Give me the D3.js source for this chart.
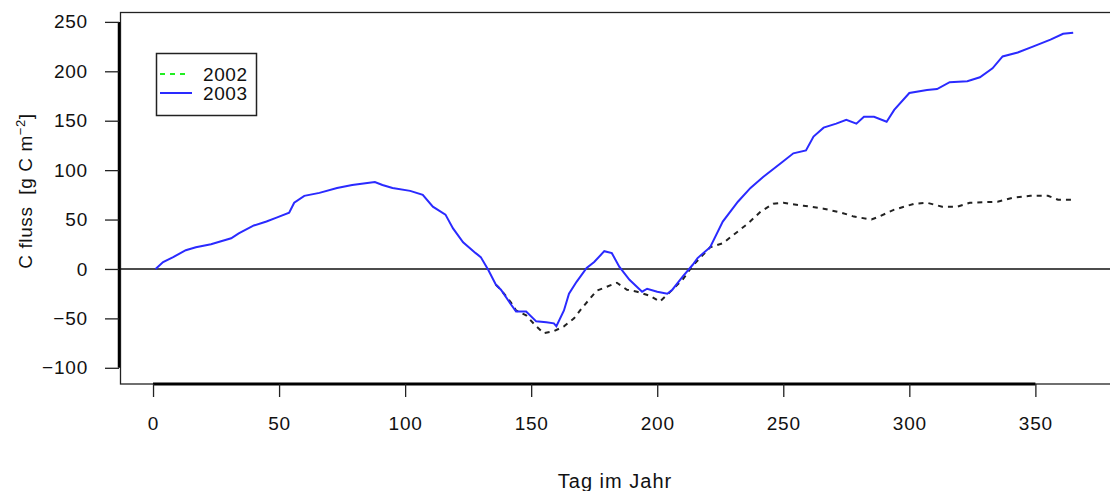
<!DOCTYPE html>
<html><head><meta charset="utf-8">
<script src="https://cdn.jsdelivr.net/npm/d3@7"></script>
<style>
html,body{margin:0;padding:0;background:#fff;}
text{font-family:"Liberation Sans",Arial,sans-serif;fill:#111;white-space:pre;}
</style></head>
<body>
<svg id="c" width="1110" height="491"></svg>
<script>
// ---- data ----
const days2003 = [1,4,8,13,17,23,27,31,34,40,45,49,54,56,60,66,73,79,85,88,91,95,102,107,111,116,119,123,128,130,133,136,138,142,144,148,152,156,159,160,163,165,168,172,175,179,182,185,189,194,196,200,204,206,210,214,216,221,226,232,237,242,249,254,259,262,266,271,275,279,282,286,291,294,300,307,311,316,323,328,333,337,343,349,356,361,365];
const vals2003 = [0,7,12,19,22,25,28,31,36,44,48,52,57,67,74,77,82,85,87,88,85,82,79,75,63,55,41,27,16,12,-1,-16,-21,-36,-43,-43,-53,-54,-55,-58,-42,-25,-13,1,7,18,16,2,-11,-23,-20,-23,-25,-21,-8,4,11,22,48,68,82,93,107,117,120,134,143,147,151,147,154,154,149,161,178,181,182,189,190,194,203,215,219,225,232,238,239];
const days2002 = [136,138,142,144,148,152,155,159,163,167,170,173,176,180,184,188,192,197,201,204,210,214,221,226,230,236,241,246,250,258,266,273,278,285,288,294,302,307,313,319,324,335,341,348,355,359,363,365];
const vals2002 = [-16,-21,-34,-42,-47,-58,-65,-63,-58,-50,-40,-31,-22,-18,-14,-21,-23,-27,-33,-26,-11,3,22,26,34,46,58,66,67,64,61,57,53,50,53,60,66,67,63,63,67,68,72,74,74,70,70,70];
const yTicks = [-100,-50,0,50,100,150,200,250];
const xTicks = [0,50,100,150,200,250,300,350];
const seriesNames = ["2002","2003"];

const svg = d3.select("#c");
const x = d3.scaleLinear().domain([-13.1, 379.6]).range([120, 1110]);
const y = d3.scaleLinear().domain([-116.4, 260]).range([384, 12]);

// plot box
svg.append("rect").attr("x",120.5).attr("y",12.5).attr("width",1000).attr("height",371.5)
  .attr("fill","none").attr("stroke","#222").attr("stroke-width",1.3);

// y axis
const ya = svg.append("g").attr("transform","translate(119,0)")
  .call(d3.axisLeft(y).tickValues(yTicks).tickSize(14).tickPadding(17).tickFormat(d=>d<0?"\u2212"+Math.abs(d):d));
ya.select(".domain").attr("d",`M0,${y(-100)}V${y(250)}`).attr("stroke","#000").attr("stroke-width",2.5);
ya.selectAll(".tick line").attr("stroke","#222").attr("stroke-width",1.3);
ya.selectAll(".tick text").style("font-size","19px").style("letter-spacing","0.8px")
  .attr("font-family","Liberation Sans, Arial, sans-serif").attr("fill","#111");

// x axis
const xa = svg.append("g").attr("transform","translate(0,384)")
  .call(d3.axisBottom(x).tickValues(xTicks).tickSize(13).tickPadding(20));
xa.select(".domain").attr("d",`M${x(0)},0H${x(350)}`).attr("stroke","#000").attr("stroke-width",3);
xa.selectAll(".tick line").attr("stroke","#222").attr("stroke-width",1.3);
xa.selectAll(".tick text").style("font-size","19px").style("letter-spacing","0.8px")
  .attr("font-family","Liberation Sans, Arial, sans-serif").attr("fill","#111");

// zero line
svg.append("line").attr("x1",120).attr("x2",1110).attr("y1",y(0)).attr("y2",y(0))
  .attr("stroke","#111").attr("stroke-width",1.5);

const line = d3.line().x(d=>x(d[0])).y(d=>y(d[1]));
const d2002 = days2002.map((d,i)=>[d,vals2002[i]]);
const d2003 = days2003.map((d,i)=>[d,vals2003[i]]);

svg.append("path").datum(d2002).attr("d",line).attr("fill","none")
  .attr("stroke","#222").attr("stroke-width",2).attr("stroke-dasharray","5,5");
svg.append("path").datum(d2003).attr("d",line).attr("fill","none")
  .attr("stroke","#2a2aff").attr("stroke-width",2);

// legend
svg.append("rect").attr("x",156.5).attr("y",53.5).attr("width",100).attr("height",62)
  .attr("fill","#fff").attr("stroke","#222").attr("stroke-width",1.5);
svg.append("line").attr("x1",160).attr("x2",190).attr("y1",74).attr("y2",74)
  .attr("stroke","#22ee22").attr("stroke-width",2).attr("stroke-dasharray","5,5");
svg.append("line").attr("x1",160).attr("x2",192).attr("y1",93).attr("y2",93)
  .attr("stroke","#2a2aff").attr("stroke-width",2);
svg.append("text").attr("x",203).attr("y",81).style("font-size","19px").style("letter-spacing","0.6px").text(seriesNames[0]);
svg.append("text").attr("x",203).attr("y",100).style("font-size","19px").style("letter-spacing","0.6px").text(seriesNames[1]);

// axis titles
const yl = svg.append("text").attr("transform","translate(32,191) rotate(-90)")
  .attr("text-anchor","middle").style("font-size","19px").style("letter-spacing","0.6px");
yl.append("tspan").text("C fluss  [g C m");
yl.append("tspan").attr("dy",-7).style("font-size","13px").text("\u22122");
yl.append("tspan").attr("dy",7).text("]");

svg.append("text").attr("x",615).attr("y",488).attr("text-anchor","middle")
  .style("font-size","20px").style("letter-spacing","1px").text("Tag im Jahr");
</script>
</body></html>
